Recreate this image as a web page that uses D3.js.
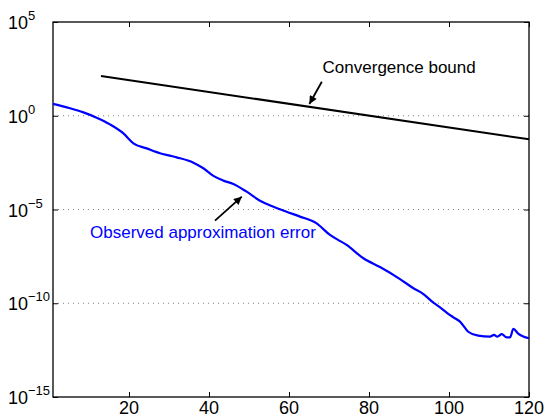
<!DOCTYPE html>
<html>
<head>
<meta charset="utf-8">
<script src="https://cdn.jsdelivr.net/npm/d3@7"></script>
<style>
  body { margin: 0; background: #fff; }
  text { font-family: "Liberation Sans", Arial, Helvetica, sans-serif; }
</style>
</head>
<body>
<svg id="chart" width="547" height="419"></svg>
<script>
// Iteration numbers and observed approximation error
const iterations = [1, 5.25, 8.6, 11.9, 15.25, 18.6, 21.1, 24.4, 27.75, 30.25, 31.9, 36.1, 38.6,
  41.1, 43.6, 46.1, 49.4, 52.75, 56.1, 59.4, 62.75, 66.9, 70.25, 74.4, 78.6, 82.75, 87.75,
  91.1, 93.6, 96.1, 97.75, 99.4, 101.1, 102.75, 104.8, 107.3, 110.25, 111.25, 112.1, 113.2,
  114.4, 115.25, 116.1, 117.3, 120];
const observedError = [4.27, 2.51, 1.51, 0.79, 0.347, 0.115, 0.0339, 0.0182, 0.0100, 0.00741,
  0.00603, 0.00316, 0.00158, 6.17e-4, 3.47e-4, 2.29e-4, 8.91e-5, 2.95e-5, 1.41e-5, 7.59e-6,
  4.17e-6, 1.82e-6, 4.37e-7, 1.29e-7, 2.51e-8, 8.51e-9, 1.95e-9, 6.31e-10, 3.09e-10, 1.07e-10,
  6.03e-11, 3.16e-11, 1.78e-11, 1.05e-11, 3.02e-12, 1.86e-12, 1.66e-12, 2.04e-12, 1.66e-12,
  2.24e-12, 1.51e-12, 1.51e-12, 4.27e-12, 2.40e-12, 1.35e-12];

// Theoretical convergence bound (straight line on the log scale)
const boundIterations = [13, 120];
const boundValues = [132, 0.0555];

// Axis ticks
const xTicks = [20, 40, 60, 80, 100, 120];
const yTickExponents = [5, 0, -5, -10, -15];
const gridExponents = [0, -5, -10];

const svg = d3.select("#chart");
const margin = { left: 53, right: 18, top: 22, bottom: 22 };
const W = 547, H = 419;
const x = d3.scaleLinear().domain([1, 120]).range([margin.left, W - margin.right]);
const y = d3.scaleLog().domain([1e-15, 1e5]).range([H - margin.bottom, margin.top]);

const x0 = x.range()[0], x1 = x.range()[1];
const y0 = y.range()[0], y1 = y.range()[1];

// dotted horizontal grid
svg.append("g").selectAll("line").data(gridExponents).join("line")
  .attr("x1", x0).attr("x2", x1)
  .attr("y1", d => y(Math.pow(10, d))).attr("y2", d => y(Math.pow(10, d)))
  .attr("stroke", "#808080").attr("stroke-width", 1)
  .attr("stroke-dasharray", "1,4");

// axes with inward ticks on all four sides
const tickLen = 5;
const yTickVals = yTickExponents.map(e => Math.pow(10, e));
const axisStyle = g => {
  g.select(".domain").remove();
  g.selectAll(".tick line").attr("stroke", "#000").attr("stroke-width", 1);
  g.selectAll(".tick text").remove();
};
svg.append("g").attr("transform", `translate(0,${y0})`)
  .call(d3.axisBottom(x).tickValues(xTicks).tickSize(-tickLen)).call(axisStyle);
svg.append("g").attr("transform", `translate(0,${y1})`)
  .call(d3.axisTop(x).tickValues(xTicks).tickSize(-tickLen)).call(axisStyle);
svg.append("g").attr("transform", `translate(${x0},0)`)
  .call(d3.axisLeft(y).tickValues(yTickVals).tickSize(-tickLen)).call(axisStyle);
svg.append("g").attr("transform", `translate(${x1},0)`)
  .call(d3.axisRight(y).tickValues(yTickVals).tickSize(-tickLen)).call(axisStyle);

// x tick labels
svg.append("g").selectAll("text").data(xTicks).join("text")
  .attr("x", d => x(d)).attr("y", y0 + 17)
  .attr("text-anchor", "middle").attr("font-size", 18).attr("fill", "#000")
  .text(d => d);

// y tick labels as powers of ten
const yl = svg.append("g").selectAll("text").data(yTickExponents).join("text")
  .attr("x", 8).attr("y", d => y(Math.pow(10, d)) + 7)
  .attr("font-size", 18).attr("fill", "#000");
yl.append("tspan").text("10");
yl.append("tspan").attr("dy", -9).attr("font-size", 13)
  .text(d => d < 0 ? "\u2212" + Math.abs(d) : String(d));

// plot frame
svg.append("rect").attr("x", x0).attr("y", y1)
  .attr("width", x1 - x0).attr("height", y0 - y1)
  .attr("fill", "none").attr("stroke", "#000").attr("stroke-width", 1.3);

// convergence bound
svg.append("path")
  .datum(boundIterations.map((d, i) => [d, boundValues[i]]))
  .attr("fill", "none").attr("stroke", "#000").attr("stroke-width", 2)
  .attr("d", d3.line().x(d => x(d[0])).y(d => y(d[1])));

// observed error
svg.append("path")
  .datum(iterations.map((d, i) => [d, observedError[i]]))
  .attr("fill", "none").attr("stroke", "#0000ff").attr("stroke-width", 2.2)
  .attr("stroke-linejoin", "round")
  .attr("d", d3.line().curve(d3.curveMonotoneX).x(d => x(d[0])).y(d => y(d[1])));

// annotations with arrows
const defs = svg.append("defs");
defs.append("marker").attr("id", "head")
  .attr("viewBox", "0 0 10 10").attr("refX", 10).attr("refY", 5)
  .attr("markerWidth", 10).attr("markerHeight", 8).attr("markerUnits", "userSpaceOnUse")
  .attr("orient", "auto")
  .append("path").attr("d", "M0,0 L10,5 L0,10 Z").attr("fill", "#000");

const notes = [
  { text: "Convergence bound", color: "#000", tx: 68.4, ty: 1.84e2, ax: 68.2, ay: 65.5, bx: 65.1, by: 4.24 },
  { text: "Observed approximation error", color: "#0000ff", tx: 10.25, ty: 2.91e-7, ax: 41.5, ay: 2.53e-6, bx: 48.2, by: 4.82e-5 }
];
notes.forEach(n => {
  svg.append("line")
    .attr("x1", x(n.ax)).attr("y1", y(n.ay)).attr("x2", x(n.bx)).attr("y2", y(n.by))
    .attr("stroke", "#000").attr("stroke-width", 1.8).attr("marker-end", "url(#head)");
  svg.append("text").attr("x", x(n.tx)).attr("y", y(n.ty))
    .attr("font-size", 17).attr("fill", n.color).text(n.text);
});
</script>
</body>
</html>
